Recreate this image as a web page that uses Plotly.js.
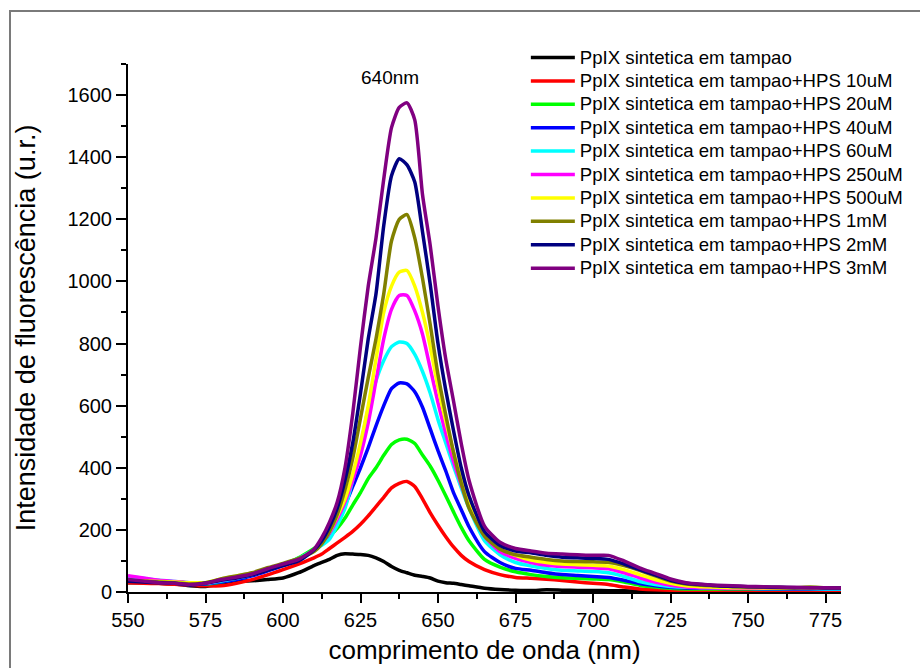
<!DOCTYPE html>
<html>
<head>
<meta charset="utf-8">
<script src="https://cdn.plot.ly/plotly-3.0.1.min.js"></script>
<style>
html,body{margin:0;padding:0;background:#fff;}
#wrap{position:relative;width:920px;height:668px;}
#chart{position:absolute;left:0;top:0;width:920px;height:668px;}
#frame{position:absolute;left:9px;top:10px;width:920px;height:668px;border-top:2px solid #7a7a7a;border-left:2px solid #7a7a7a;pointer-events:none;}
</style>
</head>
<body>
<div id="wrap"><div id="chart"></div><div id="frame"></div></div>
<script>
const wavelength = [550,555,560,565,570,575,580,585,590,595,600,605,610,612.5,615,617.5,620,622.5,625,627.5,630,632.5,635,637.5,640,642.5,645,647.5,650,652.5,655,657.5,660,665,670,675,680,685,690,695,700,705,710,715,720,725,730,735,740,745,750,755,760,765,770,775,780];

const seriesNames = [
  "PpIX sintetica em tampao",
  "PpIX sintetica em tampao+HPS 10uM",
  "PpIX sintetica em tampao+HPS 20uM",
  "PpIX sintetica em tampao+HPS 40uM",
  "PpIX sintetica em tampao+HPS 60uM",
  "PpIX sintetica em tampao+HPS 250uM",
  "PpIX sintetica em tampao+HPS 500uM",
  "PpIX sintetica em tampao+HPS 1mM",
  "PpIX sintetica em tampao+HPS 2mM",
  "PpIX sintetica em tampao+HPS 3mM"
];
const seriesColors = ["#000000","#ff0000","#00ff00","#0000ff","#00ffff","#ff00ff","#ffff00","#808000","#000080","#800080"];

const tampao = [30,30,28,26,20,18,25,33,36,40,45,62,85,95,105,118,123,122,121,118,110,98,82,70,62,54,50,45,35,30,28,24,20,12,8,6,5,7,6,5,5,4,4,3,4,3,3,3,4,3,3,3,3,4,3,3,3];
const hps10uM = [30,28,27,25,22,20,20,28,40,55,72,90,110,122,140,158,176,195,218,245,275,305,335,350,356,340,300,255,215,178,145,118,98,72,56,47,44,41,37,32,28,24,16,10,7,6,6,5,5,5,5,5,5,5,5,5,5];
const hps20uM = [45,40,35,32,28,25,32,42,55,70,88,110,140,155,180,205,238,280,320,365,400,440,475,490,492,478,441,405,360,310,258,208,165,105,80,65,56,50,46,44,42,40,32,22,16,12,10,10,10,10,10,9,9,12,10,9,9];
const hps40uM = [48,42,36,33,28,26,32,40,52,68,85,105,135,155,190,235,280,340,400,465,535,600,655,673,670,645,595,525,455,390,320,265,210,130,95,76,70,62,56,53,50,47,38,27,20,15,13,12,12,11,11,10,10,10,10,9,9];
const hps60uM = [50,44,38,34,30,28,35,44,56,72,88,108,135,150,170,215,270,360,470,590,680,745,790,805,800,765,710,640,555,480,405,335,270,165,120,95,84,76,70,68,66,62,50,34,24,18,15,14,13,12,12,11,11,11,11,10,10];
const hps250uM = [52,45,38,34,30,28,38,46,58,72,88,105,135,158,190,235,290,360,440,545,680,815,910,955,955,905,830,720,610,510,420,345,275,180,130,108,95,86,82,80,78,75,62,46,32,22,16,14,13,12,12,12,12,12,12,12,12];
const hps500uM = [35,35,34,32,30,30,42,52,60,75,90,105,135,160,195,245,300,380,480,600,750,900,985,1030,1035,985,900,790,660,550,450,365,290,190,142,118,103,95,90,88,86,84,72,56,40,28,20,17,15,14,14,13,13,13,13,13,13];
const hps1mM = [38,35,32,30,26,30,42,52,62,78,92,108,130,155,195,250,330,430,560,690,815,960,1130,1200,1215,1140,1010,860,700,570,450,350,270,180,138,120,112,105,100,98,97,96,85,70,52,35,26,22,20,18,16,15,14,14,16,14,13];
const hps2mM = [35,32,30,28,22,28,38,45,55,70,85,100,135,165,210,270,360,480,640,815,960,1180,1340,1395,1375,1320,1160,990,800,650,520,400,310,195,150,132,126,118,112,110,108,105,90,72,55,38,28,24,20,18,17,16,15,14,14,13,13];
const hps3mM = [40,35,30,28,24,28,40,48,58,75,90,105,138,175,225,290,400,575,790,985,1140,1330,1495,1560,1575,1520,1280,1115,920,750,615,478,360,212,160,140,132,125,122,120,118,118,100,78,60,42,30,25,22,20,18,17,16,15,14,14,13];

const seriesValues = [tampao,hps10uM,hps20uM,hps40uM,hps60uM,hps250uM,hps500uM,hps1mM,hps2mM,hps3mM];

const xTicks = [550,575,600,625,650,675,700,725,750,775];
const yTicks = [0,200,400,600,800,1000,1200,1400,1600];

const traces = seriesNames.map((name,i)=>({
  x: wavelength,
  y: seriesValues[i],
  name: '<span style="font-size:18.6px">' + name + '</span>',
  type: 'scatter',
  mode: 'lines',
  line: {color: seriesColors[i], width: 3.5, shape: 'spline', smoothing: 0.6}
}));

const font = "Arial, 'Liberation Sans', sans-serif";

const layout = {
  width: 920, height: 668,
  margin: {l:128, r:77, t:64, b:76},
  paper_bgcolor: '#ffffff',
  plot_bgcolor: '#ffffff',
  font: {family: font, color: '#000'},
  showlegend: true,
  legend: {
    x: 0.558, y: 1.044, xanchor: 'left', yanchor: 'top',
    font: {family: font, size: 15.7, color: '#000'},
    bgcolor: 'rgba(0,0,0,0)',
    itemwidth: 44,
    tracegroupgap: 0
  },
  xaxis: {
    range: [550, 780],
    tickvals: xTicks,
    ticks: 'outside', ticklen: 9, tickwidth: 2, tickcolor: '#000',
    showline: true, linewidth: 2, linecolor: '#000',
    showgrid: false, zeroline: false,
    tickfont: {family: font, size: 20, color: '#000'},
    minor: {dtick: 12.5, tick0: 550, ticks: 'outside', ticklen: 5, tickwidth: 2, tickcolor: '#000', showgrid: false},
    title: {text: 'comprimento de onda (nm)', font: {family: font, size: 26, color: '#000'}, standoff: 11}
  },
  yaxis: {
    range: [0, 1700],
    tickvals: yTicks,
    ticks: 'outside', ticklen: 10, tickwidth: 2, tickcolor: '#000',
    showline: true, linewidth: 2, linecolor: '#000',
    showgrid: false, zeroline: false,
    tickfont: {family: font, size: 20, color: '#000'},
    minor: {dtick: 100, tick0: 0, ticks: 'outside', ticklen: 5, tickwidth: 2, tickcolor: '#000', showgrid: false},
    title: {text: 'Intensidade de fluorescência (u.r.)', font: {family: font, size: 27, color: '#000'}, standoff: 24}
  },
  annotations: [{
    x: 634.5, y: 1655, xref: 'x', yref: 'y',
    text: '640nm', showarrow: false,
    font: {family: font, size: 19, color: '#000'}
  }]
};

Plotly.newPlot('chart', traces, layout, {displayModeBar: false, staticPlot: true});
</script>
</body>
</html>
